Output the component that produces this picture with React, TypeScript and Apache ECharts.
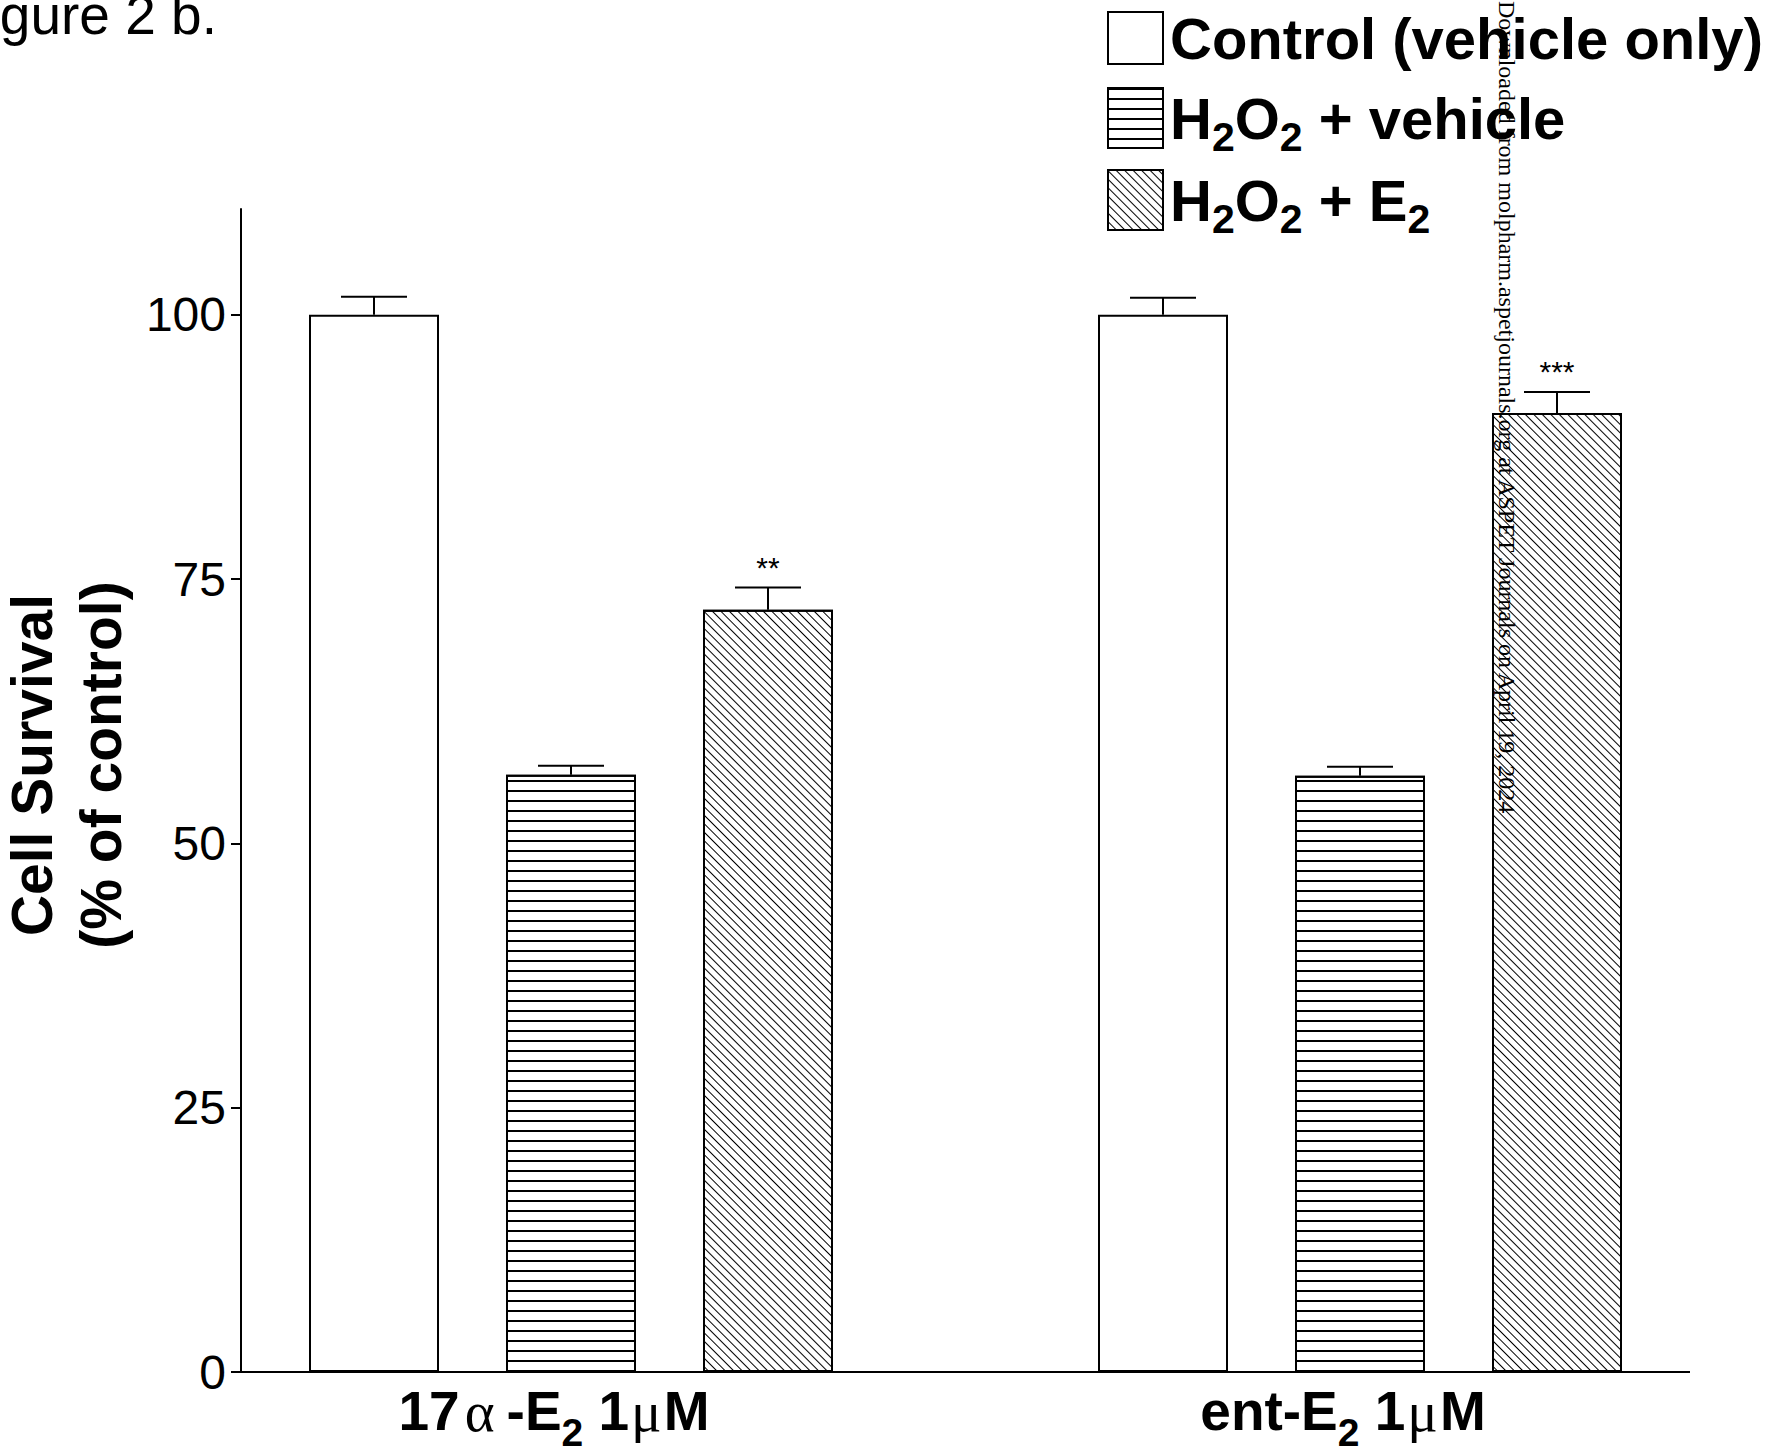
import React, { useEffect, useRef } from 'react';
import * as echarts from 'echarts';

// ---------- data ----------
const categories = ['17α-E₂ 1μM', 'ent-E₂ 1μM'];
const seriesNames = ['Control (vehicle only)', 'H₂O₂ + vehicle', 'H₂O₂ + E₂'];
const controlMean = [100, 100];
const controlSem = [1.7, 1.6];
const h2o2Mean = [56.5, 56.4];
const h2o2Sem = [0.85, 0.85];
const e2Mean = [72.1, 90.7];
const e2Sem = [2.1, 2.0];
const e2Significance = ['**', '***'];
const yTickValues = [0, 25, 50, 75, 100];
const yMin = 0;
const yMax = 110;
const yAxisTitle = ['Cell Survival', '(% of control)'];
const figureLabel = 'Figure 2 b.';
const watermark = 'Downloaded from molpharm.aspetjournals.org at ASPET Journals on April 19, 2024';

// ---------- layout / style ----------
const W = 1770;
const H = 1453;
const GRID_LEFT = 176.5;
const GRID_RIGHT = 15.5;
const GRID_TOP = 209;
const GRID_BOTTOM = 81;
const Y_AXIS_X = 241;
const X_AXIS_END = 1690;
const BAR_W = 130;
const BAR_GAP_PX = 67;
const CAP_HALF = 33;
const SANS = "'Liberation Sans', Arial, Helvetica, sans-serif";
const SERIF = "'Liberation Serif', 'Times New Roman', serif";

// b: bold body, a: alpha, g: mu, sub: subscript
function toRich(s: string, b: string, a: string | null, g: string | null, sub: string): string {
  let out = '';
  let cur = '';
  let curKey = '';
  const flush = () => {
    if (cur) out += `{${curKey}|${cur}}`;
    cur = '';
  };
  for (const ch of s) {
    let key = b;
    let c = ch;
    if (ch === '₂') {
      key = sub;
      c = '2';
    } else if (a && ch === 'α') {
      key = a;
    } else if (g && ch === 'μ') {
      key = g;
    }
    if (key !== curKey || key === a) {
      flush();
      curKey = key;
    }
    cur += c;
  }
  flush();
  return out;
}

const horizontalDecal = {
  symbol: 'rect',
  symbolSize: 1,
  dashArrayX: [1, 0],
  dashArrayY: [2, 8],
  rotation: 0,
  color: '#000',
};
const diagonalDecal = {
  symbol: 'rect',
  symbolSize: 1,
  dashArrayX: [1, 0],
  dashArrayY: [1, 5],
  rotation: Math.PI / 4,
  color: '#000',
};

function makeErrorSeries(barIdx: number, means: number[], sems: number[], marks: string[] | null) {
  return {
    type: 'custom',
    silent: true,
    z: 10,
    clip: false,
    data: means.map((m, i) => [i, m, sems[i]]),
    encode: { x: 0, y: 1 },
    renderItem: (params: any, api: any) => {
      const ci = api.value(0);
      const m = api.value(1);
      const e = api.value(2);
      const p0 = api.coord([ci, m]);
      const p1 = api.coord([ci, m + e]);
      const x = p0[0] + (barIdx - 1) * (BAR_W + BAR_GAP_PX);
      const ls = { stroke: '#000', lineWidth: 2 };
      const children: any[] = [
        { type: 'line', shape: { x1: x, y1: p0[1], x2: x, y2: p1[1] }, style: ls },
        { type: 'line', shape: { x1: x - CAP_HALF, y1: p1[1], x2: x + CAP_HALF, y2: p1[1] }, style: ls },
      ];
      const mk = marks ? marks[params.dataIndex] : '';
      if (mk) {
        children.push({
          type: 'text',
          x,
          y: p1[1] - 20,
          style: {
            text: mk,
            fontSize: 30,
            fontFamily: SANS,
            fill: '#000',
            align: 'center',
            verticalAlign: 'middle',
          },
        });
      }
      return { type: 'group', children };
    },
  };
}

const legendTextStyle = {
  color: '#000',
  fontFamily: SANS,
  fontWeight: 'bold',
  fontSize: 58,
  lineHeight: 56,
  padding: [0, 0, 0, 2],
  rich: {
    lb: { fontFamily: SANS, fontWeight: 'bold', fontSize: 58, lineHeight: 56, color: '#000' },
    ls: {
      fontFamily: SANS,
      fontWeight: 'bold',
      fontSize: 41,
      lineHeight: 56,
      color: '#000',
      padding: [38, 0, 0, 0],
    },
  },
};

function makeLegend(name: string, top: number, itemHeight: number) {
  return {
    data: [name],
    orient: 'vertical',
    left: 1107,
    top,
    padding: 0,
    itemWidth: 55,
    itemHeight,
    icon: 'rect',
    selectedMode: false,
    itemStyle: { borderColor: '#000', borderWidth: 2 },
    formatter: (n: string) => toRich(n, 'lb', null, null, 'ls'),
    textStyle: legendTextStyle,
  };
}

export default function App() {
  const ref = useRef<HTMLDivElement>(null);

  useEffect(() => {
    if (!ref.current) return;
    const chart = echarts.init(ref.current, null, { renderer: 'svg', width: W, height: H });
    const zeroY = H - GRID_BOTTOM;

    const barBase = { color: '#fff', borderColor: '#000', borderWidth: 2 };
    const barGap = `${(BAR_GAP_PX / BAR_W) * 100}%`;

    const option: any = {
      animation: false,
      backgroundColor: '#fff',
      grid: {
        left: GRID_LEFT,
        right: GRID_RIGHT,
        top: GRID_TOP,
        bottom: GRID_BOTTOM,
        containLabel: false,
        outerBoundsMode: 'none',
      },
      legend: [
        makeLegend(seriesNames[0], 9, 52),
        makeLegend(seriesNames[1], 78.5, 60),
        makeLegend(seriesNames[2], 160.5, 60),
      ],
      xAxis: {
        type: 'category',
        data: categories,
        axisLine: { show: false },
        axisTick: { show: false },
        splitLine: { show: false },
        axisLabel: {
          interval: 0,
          margin: 9,
          padding: [0, 34, 0, 0],
          formatter: (v: string) => toRich(v, 'xb', 'xa', 'xg', 'xs'),
          rich: {
            xb: { fontFamily: SANS, fontWeight: 'bold', fontSize: 55, lineHeight: 60, color: '#000' },
            xa: {
              fontFamily: SERIF,
              fontWeight: 'normal',
              fontSize: 57,
              lineHeight: 60,
              color: '#000',
              padding: [0, 12, 0, 5],
            },
            xg: {
              fontFamily: SERIF,
              fontWeight: 'normal',
              fontSize: 57,
              lineHeight: 60,
              color: '#000',
              padding: [0, 2, 0, 2],
            },
            xs: {
              fontFamily: SANS,
              fontWeight: 'bold',
              fontSize: 39,
              lineHeight: 60,
              color: '#000',
              padding: [42, 0, 0, 0],
            },
          },
        },
      },
      yAxis: {
        type: 'value',
        min: yMin,
        max: yMax,
        interval: 25,
        offset: -(Y_AXIS_X - GRID_LEFT),
        axisLine: { show: true, lineStyle: { color: '#000', width: 2 } },
        axisTick: {
          show: true,
          length: 10,
          inside: false,
          customValues: yTickValues,
          lineStyle: { color: '#000', width: 2 },
        },
        splitLine: { show: false },
        axisLabel: {
          margin: 15,
          customValues: yTickValues,
          color: '#000',
          fontFamily: SANS,
          fontSize: 48,
          formatter: (v: number) => String(v),
        },
      },
      series: [
        {
          name: seriesNames[0],
          type: 'bar',
          data: controlMean,
          barWidth: BAR_W,
          barGap,
          itemStyle: { ...barBase },
          z: 2,
        },
        {
          name: seriesNames[1],
          type: 'bar',
          data: h2o2Mean,
          barWidth: BAR_W,
          barGap,
          itemStyle: { ...barBase, decal: horizontalDecal },
          z: 2,
        },
        {
          name: seriesNames[2],
          type: 'bar',
          data: e2Mean,
          barWidth: BAR_W,
          barGap,
          itemStyle: { ...barBase, decal: diagonalDecal },
          z: 2,
        },
        makeErrorSeries(0, controlMean, controlSem, null),
        makeErrorSeries(1, h2o2Mean, h2o2Sem, null),
        makeErrorSeries(2, e2Mean, e2Sem, e2Significance),
      ],
      graphic: [
        {
          type: 'line',
          z: 20,
          shape: { x1: Y_AXIS_X - 1, y1: zeroY, x2: X_AXIS_END, y2: zeroY },
          style: { stroke: '#000', lineWidth: 2 },
        },
        {
          type: 'text',
          x: 66,
          y: 765,
          rotation: Math.PI / 2,
          style: {
            text: yAxisTitle.join('\n'),
            fontFamily: SANS,
            fontWeight: 'bold',
            fontSize: 57,
            lineHeight: 69,
            align: 'center',
            verticalAlign: 'middle',
            fill: '#000',
          },
        },
        {
          type: 'text',
          x: -46,
          y: 15,
          style: {
            text: figureLabel,
            fontFamily: SANS,
            fontSize: 55,
            align: 'left',
            verticalAlign: 'middle',
            fill: '#000',
          },
        },
        {
          type: 'text',
          x: 1507,
          y: 1,
          z: 100,
          rotation: -Math.PI / 2,
          style: {
            text: watermark,
            fontFamily: SERIF,
            fontSize: 24,
            align: 'left',
            verticalAlign: 'middle',
            fill: '#000',
          },
        },
      ],
    };

    chart.setOption(option);
    return () => {
      chart.dispose();
    };
  }, []);

  return (
    <div
      ref={ref}
      style={{ position: 'absolute', left: 0, top: 0, width: W, height: H, background: '#fff' }}
    />
  );
}
